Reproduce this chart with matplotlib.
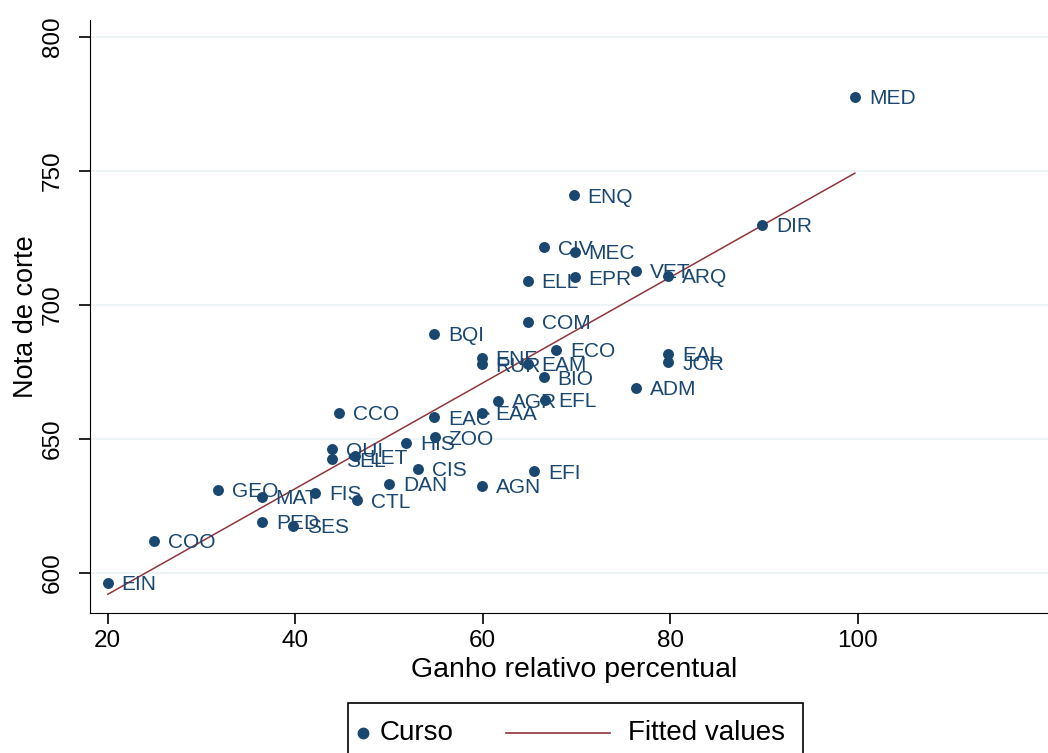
import matplotlib.pyplot as plt
from matplotlib.lines import Line2D
from matplotlib.patches import Rectangle
import numpy as np

plt.rcParams['font.family'] = ['Liberation Sans', 'DejaVu Sans']

# course codes, relative gain (%) and cut-off grade
cursos = ['EIN', 'COO', 'GEO', 'MAT', 'PED', 'SES', 'FIS', 'CTL', 'DAN', 'CIS',
          'AGN', 'EFI', 'QUI', 'SEL', 'LET', 'HIS', 'ZOO', 'CCO', 'EAC', 'EAA',
          'AGR', 'EFL', 'BQI', 'COM', 'ENF', 'RUR', 'EAM', 'ECO', 'BIO', 'ADM',
          'EAL', 'JOR', 'ENQ', 'CIV', 'MEC', 'EPR', 'ELL', 'VET', 'ARQ', 'DIR',
          'MED']
ganho = [20.0, 24.9, 31.8, 36.4, 36.5, 39.8, 42.1, 46.6, 50.0, 53.1,
         59.9, 65.5, 43.9, 43.9, 46.4, 51.8, 54.9, 44.7, 54.8, 59.9,
         61.6, 66.6, 54.8, 64.8, 59.9, 59.9, 64.8, 67.8, 66.5, 76.4,
         79.8, 79.8, 69.7, 66.5, 69.8, 69.8, 64.8, 76.4, 79.8, 89.8,
         99.7]
nota = [596.3, 612.0, 631.0, 628.4, 619.0, 617.5, 629.9, 627.2, 633.2, 638.8,
        632.5, 638.0, 646.2, 642.5, 643.6, 648.5, 650.7, 659.7, 658.0, 659.7,
        664.2, 664.6, 689.2, 693.7, 680.2, 677.8, 678.0, 683.2, 673.0, 669.0,
        681.7, 678.7, 741.0, 721.6, 719.8, 710.4, 709.0, 712.7, 710.8, 729.9,
        777.6]

navy = '#1a476f'
maroon = '#90353b'

fig = plt.figure(figsize=(10.48, 7.53), dpi=100)
ax = fig.add_axes([90 / 1048, 1 - 613 / 753, 1 - 90 / 1048, (613 - 20) / 753])

x = np.array(ganho)
y = np.array(nota)
b, a = np.polyfit(x, y, 1)
xs = np.array([x.min(), x.max()])

ax.scatter(x, y, s=62, color=navy, zorder=3, linewidths=0)
ax.plot(xs, a + b * xs, color=maroon, lw=1.1, zorder=2)

for c, xi, yi in zip(cursos, ganho, nota):
    ax.annotate(c, (xi, yi), xytext=(10, -1.5), textcoords='offset points',
                va='center', ha='left', fontsize=15, color=navy)

ax.set_xlim(18.1, 120.3)
ax.set_ylim(585, 806.3)
ax.set_xticks([20, 40, 60, 80, 100])
ax.set_yticks([600, 650, 700, 750, 800])
ax.yaxis.grid(True, color='#eaf2f3', lw=1.2)
ax.set_axisbelow(True)
ax.spines[['top', 'right']].set_visible(False)
ax.tick_params(axis='both', labelsize=17.5, length=8, width=1.2, pad=4)
ax.tick_params(axis='y', pad=11)
for lab in ax.get_yticklabels():
    lab.set_rotation(90)
    lab.set_va('center')
ax.set_xlabel('Ganho relativo percentual', fontsize=20.5, labelpad=5)
ax.set_ylabel('Nota de corte', fontsize=19.5, labelpad=2)
ax.xaxis.set_label_coords((574 - 90) / (1048 - 90), -0.075)

# legend drawn by hand, box cut by the bottom edge as in the original
fig.patches.append(Rectangle((348 / 1048, -0.05), (803 - 348) / 1048, (753 - 703) / 753 + 0.05,
                             transform=fig.transFigure, fill=False, ec='black', lw=1.2))
ly = 1 - 733 / 753
fig.add_artist(Line2D([363 / 1048], [ly], marker='o', ms=7.5, color=navy, mec=navy, ls='none'))
fig.text(380 / 1048, ly, 'Curso', fontsize=20, va='center', ha='left')
fig.add_artist(Line2D([506 / 1048, 610 / 1048], [ly, ly], color=maroon, lw=1.2))
fig.text(628 / 1048, ly, 'Fitted values', fontsize=20, va='center', ha='left')

fig.savefig('out.png', dpi=100)
